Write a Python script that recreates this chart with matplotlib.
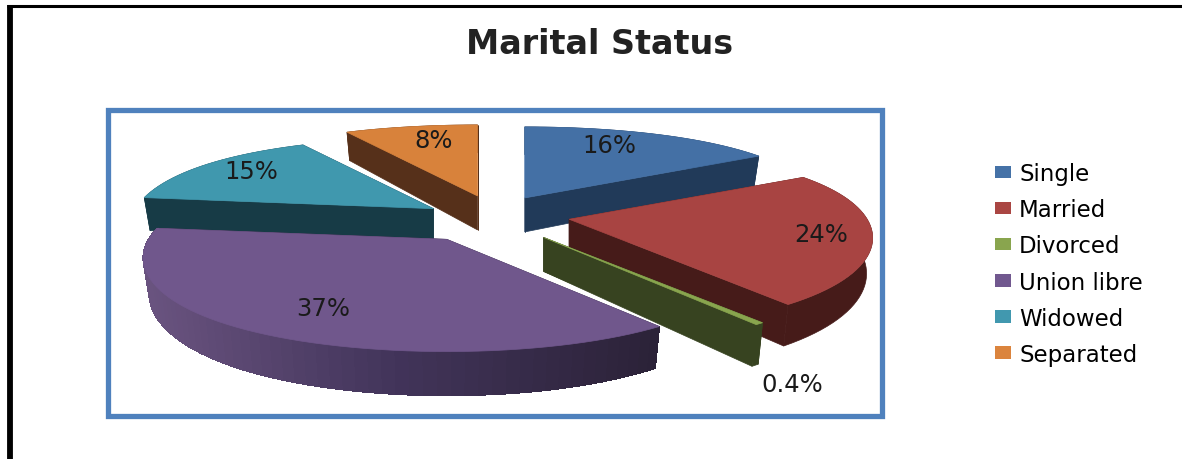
#!/usr/bin/env python3
from matplotlib import pyplot as plt
from matplotlib.colors import to_rgb
from matplotlib.patches import Patch, Polygon, Rectangle
import numpy as np

CATEGORIES = ['Single', 'Married', 'Divorced', 'Union libre', 'Widowed', 'Separated']
PERCENTS = [16, 24, 0.4, 37, 15, 8]

TOP_COLORS = ['#4470a5', '#a84442', '#89a54e', '#70578c', '#4098ae', '#d8823b']
SIDE_COLORS = ['#213a59', '#461b19', '#374320', '#2b2238', '#173b46', '#56301a']
LEGEND_COLORS = ['#4572a7', '#aa4643', '#89a54e', '#71588f', '#4198af', '#db843d']
EXPLODE = [0.25, 0.27, 0.29, 0.30, 0.23, 0.25]
# small corrections on top of the explosion, pixels
NUDGE = [(-1, 0), (0, -2), (3, 0), (3, 0), (0, 3), (6, 0)]
LABEL_XY = [(609, 146), (821, 235), (792, 385), (323, 309), (251, 172), (434, 141)]

# pie geometry, in picture pixels
CX, CY = 490, 218
RX, RY = 298, 87
DEPTH = 34


def rim(angles):
    """Angles clockwise from 12 o'clock to offsets of the top face rim"""
    u, v = np.sin(angles), -np.cos(angles)
    # width shrinks less towards the back than it grows towards the front
    scale_x = 1 / (1 - (0.175 + 0.075 * v) * v)
    scale_y = 1 / (1 - 0.225 * v)
    return RX * u * scale_x, RY * v * scale_y, scale_y


def lower(x, y, scale, x0):
    return x0 + (x - x0) * 0.98, y + DEPTH * scale


def union_shade(x):
    stops = np.array([to_rgb('#69537f'), to_rgb('#42345a'), to_rgb('#2b2238')])
    return tuple(np.interp(x, [150, 400, 660], stops[:, _]) for _ in range(3))


def draw_slice(ax, i, start, stop):
    mid = (start + stop) / 2
    x0 = CX + EXPLODE[i] * RX * np.sin(mid) + NUDGE[i][0]
    y0 = CY - EXPLODE[i] * RY * np.cos(mid) + NUDGE[i][1]
    t = np.linspace(start, stop, max(3, int(np.degrees(stop - start) / 2)))
    dx, dy, scale = rim(t)
    x, y = x0 + dx, y0 + dy
    xb, yb = lower(x, y, scale, x0)
    apex_b = y0 + DEPTH
    # the two cut faces
    for _ in (0, -1):
        ax.add_patch(Polygon([(x0, y0), (x[_], y[_]), (xb[_], yb[_]), (x0, apex_b)],
                             fc=SIDE_COLORS[i], ec=SIDE_COLORS[i], lw=0.5))
    # outer face
    if CATEGORIES[i] == 'Union libre':
        for _ in range(len(t) - 1):
            c = union_shade(x[_])
            ax.add_patch(Polygon([(x[_], y[_]), (x[_ + 1], y[_ + 1]),
                                  (xb[_ + 1], yb[_ + 1]), (xb[_], yb[_])],
                                 fc=c, ec=c, lw=0.5, antialiased=False))
    else:
        ax.add_patch(Polygon(np.r_[np.c_[x, y], np.c_[xb, yb][::-1]],
                             fc=SIDE_COLORS[i], ec=SIDE_COLORS[i], lw=0.5))
    ax.add_patch(Polygon(np.r_[[(x0, y0)], np.c_[x, y]],
                         fc=TOP_COLORS[i], ec=TOP_COLORS[i], lw=0.5))


fig = plt.figure(figsize=(11.82, 4.6), dpi=100)
ax = fig.add_axes([0, 0, 1, 1])
ax.set_xlim(0, 1182)
ax.set_ylim(460, 0)
ax.axis('off')

# black corner of the page
ax.plot([10, 10], [460, 6], color='black', lw=4.2, solid_capstyle='butt', zorder=1)
ax.plot([7, 1182], [7, 7], color='black', lw=2.2, solid_capstyle='butt', zorder=1)
ax.add_patch(Rectangle((108, 111), 773.5, 305.5, fc='white', ec='#4f81bd', lw=3.8, zorder=0.5))

edges = np.r_[0, np.cumsum(PERCENTS)] / np.sum(PERCENTS) * 2 * np.pi
mids = (edges[:-1] + edges[1:]) / 2
for i in np.argsort(-np.cos(mids)):
    draw_slice(ax, i, edges[i], edges[i + 1])

for value, (x, y) in zip(PERCENTS, LABEL_XY):
    ax.text(x, y, f'{value:g}%', ha='center', va='center', fontsize=17.5, color='#1a1a1a')

ax.text(600, 44, 'Marital Status', ha='center', va='center', fontsize=24,
        fontweight='bold', color='#222222')

handles = [Patch(fc=c, label=n) for c, n in zip(LEGEND_COLORS, CATEGORIES)]
ax.legend(handles=handles, loc='center left', bbox_to_anchor=(995 / 1182, 1 - 265 / 460),
          frameon=False, fontsize=16.5, labelspacing=0.57, handlelength=0.7,
          handleheight=0.45, handletextpad=0.35, borderpad=0, borderaxespad=0)

fig.savefig('out.png', dpi=100)
